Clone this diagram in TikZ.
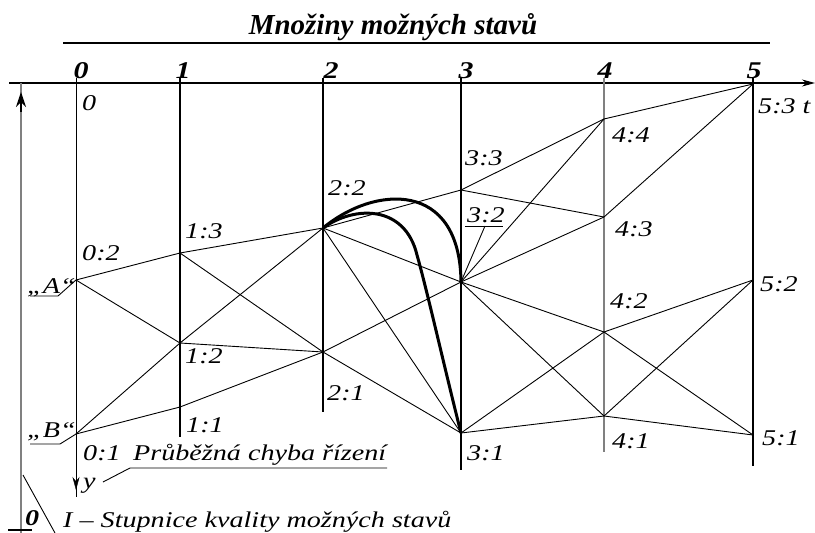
\documentclass[tikz,border=0pt]{standalone}
\usepackage{fontspec}
\setmainfont{Liberation Serif}
\newfontfamily\lblfont[FakeStretch=1.25]{Liberation Serif}
\usetikzlibrary{arrows.meta, positioning}

\begin{document}
\begin{tikzpicture}[
  x=1pt, y=-1pt,
  every node/.style={inner sep=0pt, anchor=base west},
  lbl/.style   ={font=\lblfont\itshape\fontsize{22.5}{24}\selectfont},
  colhead/.style={font=\lblfont\bfseries\itshape\fontsize{24}{26}\selectfont, anchor=base},
  heading/.style={font=\bfseries\itshape\fontsize{29}{32}\selectfont, anchor=base},
  edge/.style  ={line width=0.9pt},
  col/.style   ={line width=1.7pt},
  route/.style ={line width=3pt, line join=round},
  tip/.style   ={-{Stealth[length=13pt,width=7pt]}}
]
\useasboundingbox (0,0) rectangle (815,533);

%% Title and its rule
\node[heading] (title) at (393,34) {Množiny možných stavů};
\draw[line width=1.6pt] (63,43) -- (770,43);

%% Time axis t
\draw[line width=1.1pt, tip] (9,83) -- (815,83);

%% Time columns: x / lower end / pen
\foreach \x/\yb/\pen in {76/497/edge, 180/437/col, 323/412/col, 461/470/col, 753/466/col}
  \draw[\pen] (\x,78) -- (\x,\yb);
\draw[gray, line width=1.3pt] (604,78) -- (604,452);
\draw[tip] (76,470) -- (76,490);

%% Column numbers
\foreach \x/\t in {81/0, 183/1, 331/2, 466/3, 605/4, 754/5}
  \node[colhead] (h\t) at (\x,78) {\t};

%% Quality scale (left)
\draw[gray, line width=1.2pt] (21,83) -- (21,533);
\draw[line width=1.2pt, -{Stealth[length=15pt,width=10pt]}] (21,112) -- (21,92);
\draw[line width=1.4pt] (8,530) -- (32,530);
\draw[edge] (23,475) -- (55,533);

%% States
\coordinate (s02) at (76,280);  \coordinate (s01) at (76,434);
\coordinate (s13) at (180,253); \coordinate (s12) at (180,343); \coordinate (s11) at (180,407);
\coordinate (s22) at (323,228); \coordinate (s21) at (323,352);
\coordinate (s33) at (461,190); \coordinate (s32) at (461,282); \coordinate (s31) at (461,433);
\coordinate (s44) at (604,119); \coordinate (s43) at (604,217);
\coordinate (s42) at (604,332); \coordinate (s41) at (604,416);
\coordinate (s53) at (753,84);  \coordinate (s52) at (753,280); \coordinate (s51) at (753,435);

%% Possible transitions
\foreach \a/\b in {s02/s13, s02/s12, s01/s12, s01/s11,
                   s13/s22, s13/s21, s12/s22, s12/s21, s11/s21,
                   s22/s33, s22/s32, s22/s31, s21/s32, s21/s31,
                   s33/s44, s33/s43, s32/s44, s32/s43, s32/s42, s32/s41, s31/s42, s31/s41,
                   s44/s53, s43/s53, s42/s52, s42/s51, s41/s52, s41/s51}
  \draw[edge] (\a) -- (\b);

%% Two control paths out of 2:2
\draw[route] (s22) .. controls (375,185) and (460,180) .. (s32);
\draw[route] (s22) .. controls (355,205) and (405,205) .. (417,255)
                   .. controls (427,290) and (445,370) .. (s31);

%% State labels
\node[lbl] (l0)  at (82,110)  {0};
\node[lbl] (l02) at (82,260)  {0:2};
\node[lbl] (l01) at (83,460)  {0:1};
\node[lbl] (l13) at (185,238) {1:3};
\node[lbl] (l12) at (185,363) {1:2};
\node[lbl] (l11) at (186,432) {1:1};
\node[lbl] (l22) at (328,195) {2:2};
\node[lbl] (l21) at (327,400) {2:1};
\node[lbl] (l33) at (465,165) {3:3};
\node[lbl] (l32) at (467,222) {3:2};
\node[lbl] (l31) at (467,460) {3:1};
\node[lbl] (l44) at (612,142) {4:4};
\node[lbl] (l43) at (615,236) {4:3};
\node[lbl] (l42) at (610,308) {4:2};
\node[lbl] (l41) at (612,448) {4:1};
\node[lbl] (l53) at (758,113) {5:3 t};
\node[lbl] (l52) at (760,291) {5:2};
\node[lbl] (l51) at (762,445) {5:1};

%% Marked states A, B and the 3:2 leader
\node[lbl] (lA) at (27,293) {„A“};
\node[lbl] (lB) at (27,437) {„B“};
\coordinate (uA) at (30,296);  \coordinate (kA) at (58,296);
\coordinate (uB) at (30,444);  \coordinate (kB) at (60,444);
\draw[edge] (uA) -- (kA) -- (s02);
\draw[edge] (uB) -- (kB) -- (s01);
\coordinate (u32) at (465,226); \coordinate (v32) at (503,226); \coordinate (k32) at (485,226);
\draw[edge] (u32) -- (v32);
\draw[edge] (s32) -- (k32);

%% Axis captions
\node[lbl] (ly)  at (83,488)  {y};
\node[lbl] (lpr) at (133,460) {Průběžná chyba řízení};
\coordinate (upr) at (130,468); \coordinate (vpr) at (387,468); \coordinate (kpr) at (103,482);
\draw[edge] (kpr) -- (upr) -- (vpr);
\node[lbl, font=\lblfont\bfseries\itshape\fontsize{22.5}{24}\selectfont] (lq0) at (25,525) {0};
\node[lbl] (lq) at (63,527) {I – Stupnice kvality možných stavů};

\end{tikzpicture}
\end{document}
